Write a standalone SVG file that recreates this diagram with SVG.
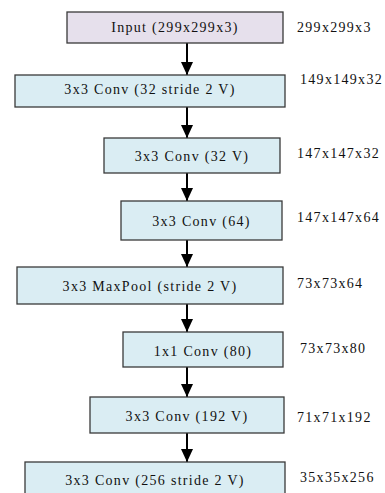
<svg xmlns="http://www.w3.org/2000/svg" width="385" height="493" viewBox="0 0 385 493">
<style>
.box{fill:#daedf3;stroke:#3a3a3a;stroke-width:1.3}
.inp{fill:#e6e0ec;stroke:#3a3a3a;stroke-width:1.3}
text{font-family:"Liberation Serif","Times New Roman",serif;font-size:14px;fill:#111;letter-spacing:1.3px}
.c{text-anchor:middle}
.conn{stroke:#000;stroke-width:2;fill:none}
</style>
<defs>
<marker id="ah" markerUnits="userSpaceOnUse" markerWidth="14" markerHeight="12" refX="13" refY="6" orient="auto" viewBox="0 0 14 12">
<path d="M0,0 L13,6 L0,12 Z" fill="#000"/>
</marker>
</defs>
<rect width="385" height="493" fill="#fff"/>
<g id="connectors">
<path class="conn" d="M187,43 V75" marker-end="url(#ah)"/>
<path class="conn" d="M187,107 V138" marker-end="url(#ah)"/>
<path class="conn" d="M187,173 V201" marker-end="url(#ah)"/>
<path class="conn" d="M187,240 V267" marker-end="url(#ah)"/>
<path class="conn" d="M187,304 V332" marker-end="url(#ah)"/>
<path class="conn" d="M187,367 V397" marker-end="url(#ah)"/>
<path class="conn" d="M187,433 V462" marker-end="url(#ah)"/>
</g>
<g id="n1"><rect class="inp" x="67" y="12" width="216" height="31"/><text class="c" x="175" y="32">Input (299x299x3)</text><text x="297" y="32">299x299x3</text></g>
<g id="n2"><rect class="box" x="15" y="75" width="270" height="32"/><text class="c" x="150" y="94">3x3 Conv (32 stride 2 V)</text><text x="300" y="84">149x149x32</text></g>
<g id="n3"><rect class="box" x="104" y="138" width="176" height="35"/><text class="c" x="192" y="161">3x3 Conv (32 V)</text><text x="297" y="158">147x147x32</text></g>
<g id="n4"><rect class="box" x="121" y="201" width="161" height="39"/><text class="c" x="201.5" y="226">3x3 Conv (64)</text><text x="297" y="222">147x147x64</text></g>
<g id="n5"><rect class="box" x="17" y="267" width="266" height="37"/><text class="c" x="150" y="291">3x3 MaxPool (stride 2 V)</text><text x="297" y="288">73x73x64</text></g>
<g id="n6"><rect class="box" x="123" y="332" width="160" height="35"/><text class="c" x="203" y="356">1x1 Conv (80)</text><text x="300" y="353">73x73x80</text></g>
<g id="n7"><rect class="box" x="90" y="397" width="194" height="36"/><text class="c" x="187" y="421">3x3 Conv (192 V)</text><text x="297" y="422">71x71x192</text></g>
<g id="n8"><rect class="box" x="25" y="462" width="260" height="40"/><text class="c" x="155" y="485">3x3 Conv (256 stride 2 V)</text><text x="300" y="482">35x35x256</text></g>
</svg>
